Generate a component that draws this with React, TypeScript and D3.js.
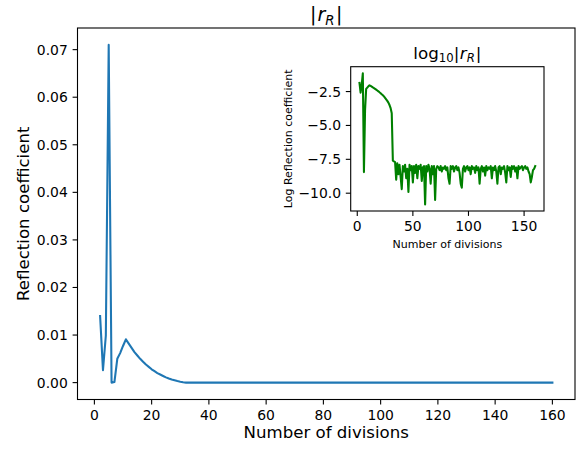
import React from "react";
import * as d3 from "d3";

// |r_R| for n = 2..31
const rEarly: number[] = [
  0.014, 0.0026, 0.0099, 0.071, 0.0000000036, 0.000126, 0.005, 0.0062, 0.0077, 0.0091,
  0.0082, 0.0073, 0.0064, 0.0057, 0.005, 0.0044, 0.0038, 0.0033, 0.0028, 0.0024,
  0.002, 0.0017, 0.0014, 0.0011, 0.00085, 0.00065, 0.00048, 0.00032, 0.00019, 0.00008,
];
// log10|r_R| for n = 32..160
const logLate: number[] = [
  -7.6, -7.65, -7.7, -9.0, -7.8, -8.6, -7.9, -8.8, -9.7, -8.0,
  -8.4, -7.9, -8.9, -8.2, -9.9, -7.9, -8.3, -8.0, -9.2, -8.0,
  -8.5, -7.9, -8.9, -8.0, -8.2, -7.9, -9.1, -8.1, -8.0, -10.83,
  -8.0, -8.4, -7.9, -8.2, -9.3, -8.0, -8.6, -8.0, -10.5, -8.2,
  -8.0, -8.1, -8.3, -8.0, -8.4, -8.1, -8.2, -8.0, -8.3, -8.1,
  -8.9, -9.3, -8.0, -8.2, -8.0, -8.4, -8.1, -8.0, -8.3, -8.1,
  -8.5, -9.3, -9.6, -8.2, -8.0, -8.4, -8.1, -8.0, -8.3, -8.1,
  -8.6, -8.0, -8.2, -8.1, -8.5, -8.0, -8.3, -8.1, -9.3, -8.2,
  -8.0, -8.4, -8.1, -8.7, -8.0, -8.3, -8.1, -8.2, -8.0, -8.9,
  -8.1, -8.3, -8.0, -8.4, -9.3, -8.1, -8.0, -8.6, -8.1, -8.2,
  -8.0, -8.5, -9.2, -8.0, -8.3, -8.1, -8.8, -8.0, -8.2, -8.0,
  -8.4, -8.1, -8.9, -8.0, -8.2, -8.1, -8.0, -8.3, -8.1, -8.0,
  -8.2, -8.1, -8.4, -8.6, -9.2, -8.8, -8.3, -8.2, -8.0,
];
const firstDivision = 2;

const mainXTicks = [0, 20, 40, 60, 80, 100, 120, 140, 160];
const mainYTicks = [0, 0.01, 0.02, 0.03, 0.04, 0.05, 0.06, 0.07];
const insetXTicks = [0, 50, 100, 150];
const insetYTicks = [-2.5, -5, -7.5, -10];

const W = 582, H = 450;
const FONT = "'DejaVu Sans', sans-serif";
const TICK = 13.9;
const LABEL = 16.6;
const INSET_LABEL = 11;

type Pt = { n: number; r: number; lr: number };
const points: Pt[] = [
  ...rEarly.map((r, i) => ({ n: firstDivision + i, r, lr: Math.log10(r) })),
  ...logLate.map((lr, i) => ({ n: firstDivision + rEarly.length + i, r: Math.pow(10, lr), lr })),
];

function padDomain([a, b]: [number, number]): [number, number] {
  const m = (b - a) * 0.05;
  return [a - m, b + m];
}

const fmtMinus = (s: string) => s.replace("-", "\u2212");

export default function App() {
  // main axes
  const mL = 77.5, mR = 575, mT = 28, mB = 399.5;
  const x = d3.scaleLinear().domain(padDomain(d3.extent(points, (d) => d.n) as [number, number])).range([mL, mR]);
  const y = d3.scaleLinear().domain(padDomain([0, d3.max(points, (d) => d.r)!])).range([mB, mT]);
  const line = d3.line<Pt>().x((d) => x(d.n)).y((d) => y(d.r));

  // inset axes
  const iL = 350.7, iR = 544, iT = 66.7, iB = 211;
  const ix = d3.scaleLinear().domain(padDomain(d3.extent(points, (d) => d.n) as [number, number])).range([iL, iR]);
  const iy = d3.scaleLinear().domain(padDomain(d3.extent(points, (d) => d.lr) as [number, number])).range([iB, iT]);
  const iline = d3.line<Pt>().x((d) => ix(d.n)).y((d) => iy(d.lr));

  const tickLen = 4.9;
  const axisColor = "#000";

  return (
    <svg width={W} height={H} style={{ position: "absolute", left: 0, top: 0, background: "#fff" }} fontFamily={FONT}>
      <rect x={0} y={0} width={W} height={H} fill="#fff" />
      {/* main line */}
      <path d={line(points)!} fill="none" stroke="#1f77b4" strokeWidth={2.08} strokeLinejoin="round" strokeLinecap="square" />
      {/* main frame */}
      <rect x={mL} y={mT} width={mR - mL} height={mB - mT} fill="none" stroke={axisColor} strokeWidth={1.1} />
      {mainXTicks.map((t) => (
        <g key={"mx" + t}>
          <line x1={x(t)} x2={x(t)} y1={mB} y2={mB + tickLen} stroke={axisColor} strokeWidth={1.1} />
          <text x={x(t)} y={419.5} fontSize={TICK} textAnchor="middle" fill="#000">{t}</text>
        </g>
      ))}
      {mainYTicks.map((t) => (
        <g key={"my" + t}>
          <line x1={mL - tickLen} x2={mL} y1={y(t)} y2={y(t)} stroke={axisColor} strokeWidth={1.1} />
          <text x={67.8} y={y(t)} dy="0.36em" fontSize={TICK} textAnchor="end" fill="#000">{t.toFixed(2)}</text>
        </g>
      ))}
      <text x={(mL + mR) / 2} y={438} fontSize={LABEL} textAnchor="middle" fill="#000">Number of divisions</text>
      <text transform={`translate(28.5,${(mT + mB) / 2}) rotate(-90)`} fontSize={LABEL} textAnchor="middle" fill="#000">Reflection coefficient</text>
      <text x={(mL + mR) / 2} y={21} fontSize={19} textAnchor="middle" fill="#000">
        <tspan>|</tspan>
        <tspan fontStyle="italic" dx={1}>r</tspan>
        <tspan fontStyle="italic" fontSize={13.3} dy={3.8}>R</tspan>
        <tspan dx={1.5} dy={-3.8}>|</tspan>
      </text>

      {/* inset */}
      <rect x={iL} y={iT} width={iR - iL} height={iB - iT} fill="#fff" />
      <path d={iline(points)!} fill="none" stroke="#008000" strokeWidth={2.08} strokeLinejoin="round" strokeLinecap="square" />
      <rect x={iL} y={iT} width={iR - iL} height={iB - iT} fill="none" stroke={axisColor} strokeWidth={1.1} />
      {insetXTicks.map((t) => (
        <g key={"ix" + t}>
          <line x1={ix(t)} x2={ix(t)} y1={iB} y2={iB + tickLen} stroke={axisColor} strokeWidth={1.1} />
          <text x={ix(t)} y={231} fontSize={TICK} textAnchor="middle" fill="#000">{t}</text>
        </g>
      ))}
      {insetYTicks.map((t) => (
        <g key={"iy" + t}>
          <line x1={iL - tickLen} x2={iL} y1={iy(t)} y2={iy(t)} stroke={axisColor} strokeWidth={1.1} />
          <text x={iL - 9.7} y={iy(t)} dy="0.36em" fontSize={TICK} textAnchor="end" fill="#000">{fmtMinus(t.toFixed(1))}</text>
        </g>
      ))}
      <text x={(iL + iR) / 2} y={248} fontSize={INSET_LABEL} textAnchor="middle" fill="#000">Number of divisions</text>
      <text transform={`translate(291.5,${(iT + iB) / 2}) rotate(-90)`} fontSize={INSET_LABEL} textAnchor="middle" fill="#000">Log Reflection coefficient</text>
      <text x={(iL + iR) / 2} y={58.5} fontSize={16.7} textAnchor="middle" fill="#000">
        <tspan>log</tspan>
        <tspan fontSize={11.7} dy={3}>10</tspan>
        <tspan dy={-3}>|</tspan>
        <tspan fontStyle="italic" dx={0.5}>r</tspan>
        <tspan fontStyle="italic" fontSize={11.7} dy={3}>R</tspan>
        <tspan dx={1} dy={-3}>|</tspan>
      </text>
    </svg>
  );
}
